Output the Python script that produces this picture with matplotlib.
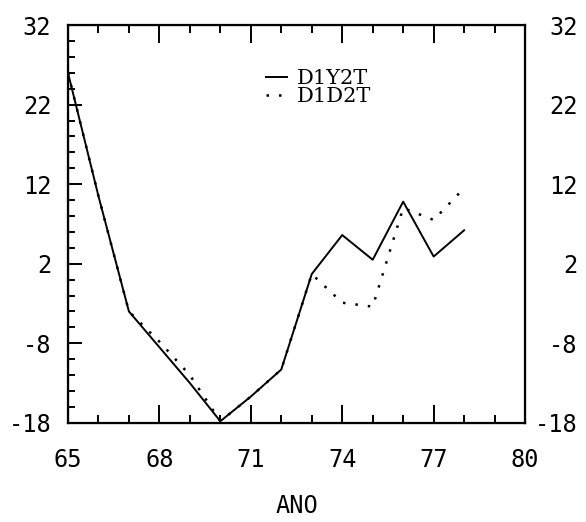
import matplotlib.pyplot as plt
from matplotlib.ticker import MultipleLocator

# values
anos = [65, 66, 67, 68, 69, 70, 71, 72, 73, 74, 75, 76, 77, 78]
d1y2t = [26, 10.5, -4, -8.5, -13, -17.8, -14.7, -11.3, 0.7, 5.6, 2.5, 9.8, 2.9, 6.2]
d1d2t = [26, 10.5, -4, -7.8, -12, -17.8, -14.7, -11.3, 0.7, -2.9, -3.4, 9.0, 7.5, 11.5]

xticks = [65, 68, 71, 74, 77, 80]
yticks = [-18, -8, 2, 12, 22, 32]

plt.rcParams['font.family'] = ['DejaVu Sans Mono']
plt.rcParams['axes.unicode_minus'] = False

fig = plt.figure(figsize=(5.86, 5.22), dpi=100)
ax = fig.add_axes([0.116, 0.19, 0.780, 0.762])

ax.plot(anos, d1y2t, color='black', lw=1.4, label='D1Y2T')
ax.plot(anos, d1d2t, color='black', lw=1.8, linestyle=(0, (1, 4)), label='D1D2T')

ax.set_xlim(65, 80)
ax.set_ylim(-18, 32)
ax.set_xticks(xticks)
ax.set_yticks(yticks)
ax.xaxis.set_minor_locator(MultipleLocator(1))
ax.yaxis.set_minor_locator(MultipleLocator(2))

ax.tick_params(which='both', direction='in', top=True, right=True,
               width=1.4, labelsize=17)
ax.tick_params(axis='x', which='major', length=13, pad=18)
ax.tick_params(axis='x', which='minor', length=6)
ax.tick_params(axis='y', which='major', length=10, pad=12)
ax.tick_params(axis='y', which='minor', length=5)
for s in ax.spines.values():
    s.set_linewidth(1.6)

# right-hand labels, right-aligned near the figure edge
ax2 = ax.twinx()
ax2.set_ylim(-18, 32)
ax2.set_yticks(yticks)
ax2.tick_params(axis='y', length=0, pad=38, labelsize=17)
for lab in ax2.get_yticklabels():
    lab.set_horizontalalignment('right')

ax.set_xlabel('ANO', fontsize=17, labelpad=16)

ax.legend(loc='upper left', bbox_to_anchor=(0.41, 0.915), frameon=False,
          handlelength=1.0, handletextpad=0.5, labelspacing=-0.05,
          borderpad=0, prop={'family': 'DejaVu Serif', 'size': 15})

fig.savefig('out.png', dpi=100)
